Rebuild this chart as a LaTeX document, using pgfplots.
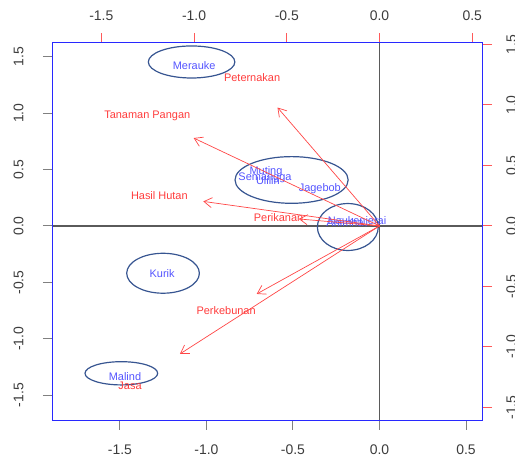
\documentclass[border=0pt]{standalone}
\usepackage{fontspec}
\setmainfont{Liberation Sans}
\usepackage{pgfplots}
\usepackage{pgfplotstable}
\pgfplotsset{compat=1.18}
\usetikzlibrary{arrows.meta}
\definecolor{boxblue}{RGB}{40,40,255}
\definecolor{txtblue}{RGB}{85,85,255}
\definecolor{txtred}{RGB}{255,60,60}
\definecolor{arrred}{RGB}{255,70,70}
\definecolor{tickred}{RGB}{255,90,90}
\definecolor{ellcol}{RGB}{55,85,145}
\definecolor{zerogray}{RGB}{90,90,90}
\definecolor{ticklab}{RGB}{60,60,60}

\pgfplotstableread{
x y label
-1.071 1.425 Merauke
-0.662 0.426 Semangga
-0.656 0.479 Muting
-0.645 0.399 Ulilin
-0.345 0.328 Jagebob
-0.130 0.035 Naukenjerai
-0.199 0.027 Animha
-1.256 -0.419 Kurik
-1.471 -1.336 Malind
}\scores

\pgfplotstableread{
x0 y0 u v lx ly label
0 0 -0.550 0.979 -0.687 1.224 Peternakan
0 0 -1.002 0.727 -1.252 0.909 {Tanaman Pangan}
0 0 -0.950 0.203 -1.187 0.254 {Hasil Hutan}
0 0 -0.435 0.058 -0.544 0.072 Perikanan
0 0 -0.662 -0.562 -0.827 -0.703 Perkebunan
0 0 -1.076 -1.058 -1.345 -1.323 Jasa
}\loads

\pgfplotsset{
  common/.style={
    scale only axis, width=430.4bp, height=377.3bp,
    axis line style={boxblue, line width=0.9bp},
    xtick={-1.5,-1,-0.5,0,0.5}, xticklabels={-1.5,-1.0,-0.5,0.0,0.5},
    ytick={-1.5,-1,-0.5,0,0.5,1,1.5}, yticklabels={-1.5,-1.0,-0.5,0.0,0.5,1.0,1.5},
    tick align=outside, major tick length=9.5bp,
    ticklabel style={font=\fontsize{14}{14}\selectfont, text=ticklab, inner sep=0pt},
    clip=true,
  }
}

\begin{document}
\begin{tikzpicture}
\useasboundingbox (-52.3bp,-39bp) rectangle (462.7bp,420bp);
\begin{axis}[common,
  xmin=-1.891, xmax=0.5965, ymin=-1.720, ymax=1.625,
  xtick pos=left, ytick pos=left, xticklabel pos=left, yticklabel pos=left,
  tick style={gray, line width=1bp},
  xticklabel style={anchor=north}, xticklabel shift=15bp,
  yticklabel style={rotate=90, anchor=south}, yticklabel shift=19bp,
]
\draw[zerogray, line width=1.4bp] (axis cs:-3,0) -- (axis cs:3,0);
\draw[zerogray, line width=1.4bp] (axis cs:0,-3) -- (axis cs:0,3);
\draw[ellcol, line width=1.2bp] (axis cs:-1.086,1.454) ellipse [x radius=0.250, y radius=0.142];
\draw[ellcol, line width=1.2bp] (axis cs:-0.508,0.408) ellipse [x radius=0.327, y radius=0.207];
\draw[ellcol, line width=1.2bp] (axis cs:-0.183,-0.009) ellipse [x radius=0.176, y radius=0.208];
\draw[ellcol, line width=1.2bp] (axis cs:-1.251,-0.419) ellipse [x radius=0.210, y radius=0.177];
\draw[ellcol, line width=1.2bp] (axis cs:-1.492,-1.306) ellipse [x radius=0.210, y radius=0.103];
\addplot[draw=none, mark=none, nodes near coords, point meta=explicit symbolic,
  every node near coord/.style={anchor=center, inner sep=0pt, text=txtblue, font=\fontsize{11}{11}\selectfont}]
  table[x=x, y=y, meta=label] {\scores};
\end{axis}
\begin{axis}[common,
  xmin=-1.764, xmax=0.5563, ymin=-1.604, ymax=1.515,
  xtick pos=right, ytick pos=right, xticklabel pos=right, yticklabel pos=right,
  tick style={tickred, line width=1bp},
  xticklabel style={anchor=south}, xticklabel shift=12bp,
  yticklabel style={rotate=90, anchor=north}, yticklabel shift=14bp,
]
\addplot[arrred, line width=0.7bp, -{Straight Barb[length=8bp,width=10bp]},
  quiver={u=\thisrow{u}, v=\thisrow{v}}] table[x=x0, y=y0] {\loads};
\addplot[draw=none, mark=none, nodes near coords, point meta=explicit symbolic,
  every node near coord/.style={anchor=center, inner sep=0pt, text=txtred, font=\fontsize{11}{11}\selectfont}]
  table[x=lx, y=ly, meta=label] {\loads};
\end{axis}
\end{tikzpicture}
\end{document}
